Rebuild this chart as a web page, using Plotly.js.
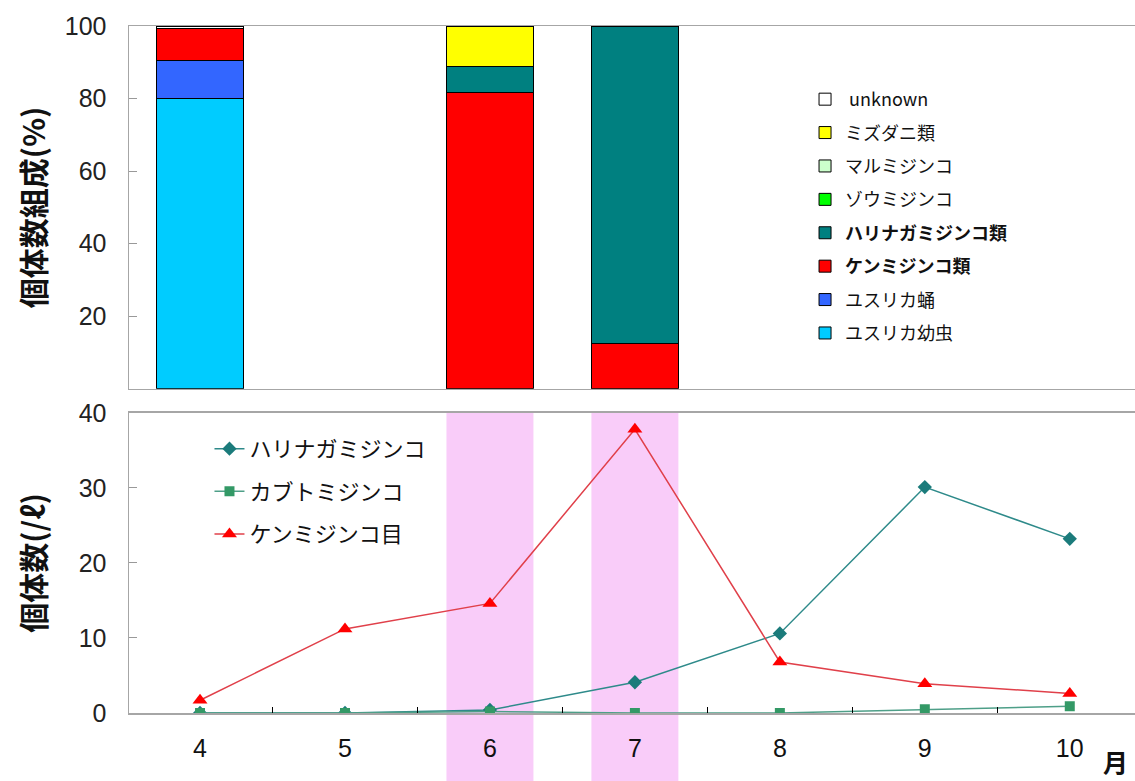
<!DOCTYPE html>
<html>
<head>
<meta charset="utf-8">
<script src="https://cdn.plot.ly/plotly-3.0.1.min.js"></script>
<style>html,body{margin:0;padding:0;background:#fff;}#chart{width:1135px;height:781px;}</style>
</head>
<body>
<div id="chart"></div>
<script>
// ---- data ----
var months = ['4', '5', '6', '7', '8', '9', '10'];

// top panel: composition (%)  (null = no sample / no bar)
var pctYusurikaLarva = [80.0, null, null, null, null, null, null];
var pctYusurikaPupa  = [10.6, null, null, null, null, null, null];
var pctKenmijinko    = [8.6, null, 81.7, 12.5, null, null, null];
var pctHarinaga      = [null, null, 7.2, 87.5, null, null, null];
var pctZoumijinko    = [null, null, null, null, null, null, null];
var pctMarumijinko   = [null, null, null, null, null, null, null];
var pctMizudani      = [null, null, 11.1, null, null, null, null];
var pctUnknown       = [0.8, null, null, null, null, null, null];

// bottom panel: individuals per litre
var cntHarinaga   = [0, 0, 0.4, 4.1, 10.6, 30.1, 23.2];
var cntKabuto     = [0, 0, 0.2, 0, 0, 0.5, 0.9];
var cntKenmijinko = [1.7, 11.2, 14.6, 37.8, 6.8, 3.9, 2.6];

var highlightMonths = ['6', '7'];

var FONT = 'Liberation Sans, Arial, Noto Sans CJK JP, sans-serif';
var JFONT = 'Noto Sans CJK JP, Liberation Sans, sans-serif';

function barTrace(name, vals, color, i) {
  return {
    type: 'bar', x: months, y: vals, name: name,
    xaxis: 'x2', yaxis: 'y2', width: 0.6,
    marker: {color: color, line: {color: '#000', width: 1}},
    legend: 'legend', legendgroup: 'g' + i, legendrank: 100 - i, hoverinfo: 'y+name'
  };
}

var traces = [
  barTrace('ユスリカ幼虫', pctYusurikaLarva, '#00CCFF', 1),
  barTrace('ユスリカ蛹', pctYusurikaPupa, '#3366FF', 2),
  barTrace('<b>ケンミジンコ類</b>', pctKenmijinko, '#FF0000', 3),
  barTrace('<b>ハリナガミジンコ類</b>', pctHarinaga, '#008080', 4),
  barTrace('ゾウミジンコ', pctZoumijinko, '#00FF00', 5),
  barTrace('マルミジンコ', pctMarumijinko, '#CCFFCC', 6),
  barTrace('ミズダニ類', pctMizudani, '#FFFF00', 7),
  barTrace('&#160;unknown', pctUnknown, '#FFFFFF', 8),
  {
    type: 'scatter', mode: 'lines+markers', x: months, y: cntHarinaga,
    name: 'ハリナガミジンコ', xaxis: 'x', yaxis: 'y', legend: 'legend2', legendgroup: 'l1',
    line: {color: '#2E8A8A', width: 1.5},
    marker: {symbol: 'diamond', size: 11, color: '#1B7B7B'}
  },
  {
    type: 'scatter', mode: 'lines+markers', x: months, y: cntKabuto,
    name: 'カブトミジンコ', xaxis: 'x', yaxis: 'y', legend: 'legend2', legendgroup: 'l2',
    line: {color: '#4E9F88', width: 1.5},
    marker: {symbol: 'square', size: 10, color: '#339966'}
  },
  {
    type: 'scatter', mode: 'lines+markers', x: months, y: cntKenmijinko,
    name: 'ケンミジンコ目', xaxis: 'x', yaxis: 'y', legend: 'legend2', legendgroup: 'l3',
    line: {color: '#E0404A', width: 1.5},
    marker: {symbol: 'triangle-up', size: 13, color: '#FF0000'}
  }
];

var shapes = highlightMonths.map(function (m) {
  var idx = months.indexOf(m);
  return {
    type: 'rect', layer: 'below', xref: 'x', yref: 'paper',
    x0: idx - 0.3, x1: idx + 0.3, y0: -0.11, y1: 0.437,
    fillcolor: '#F9CCF9', line: {width: 0}
  };
});

var layout = {
  width: 1135, height: 781,
  margin: {l: 129, r: 0, t: 26, b: 68},
  paper_bgcolor: '#fff', plot_bgcolor: 'rgba(0,0,0,0)',
  barmode: 'stack', showlegend: true,
  font: {family: FONT, color: '#111'},
  xaxis: {
    type: 'category', categoryorder: 'array', categoryarray: months,
    range: [-0.49, 6.45], anchor: 'y',
    showline: true, linecolor: '#A6A6A6', linewidth: 1.5, mirror: true,
    showgrid: false, zeroline: false,
    ticks: 'inside', tickson: 'boundaries', ticklen: 6, tickcolor: '#000', tickwidth: 1,
    tickfont: {size: 25, family: FONT, color: '#111'}, ticklabelstandoff: 12
  },
  yaxis: {
    domain: [0, 0.437], range: [0, 40], tickvals: [0, 10, 20, 30, 40], anchor: 'x',
    showline: true, linecolor: '#A6A6A6', linewidth: 1.5,
    showgrid: false, zeroline: false,
    ticks: 'inside', ticklen: 8, tickcolor: '#999',
    tickfont: {size: 25, family: FONT, color: '#222'}, ticklabelstandoff: 16,
    title: {text: '<b>個体数(/ℓ)</b>', font: {size: 30, family: JFONT, color: '#111'}, standoff: 24}
  },
  xaxis2: {
    type: 'category', categoryorder: 'array', categoryarray: months,
    range: [-0.49, 6.45], anchor: 'y2', matches: 'x',
    showline: true, linecolor: '#A6A6A6', linewidth: 1.5, mirror: true,
    showgrid: false, zeroline: false, showticklabels: false, ticks: ''
  },
  yaxis2: {
    domain: [0.472, 1], range: [0, 100], tickvals: [20, 40, 60, 80, 100], anchor: 'x2',
    showline: true, linecolor: '#A6A6A6', linewidth: 1.5,
    showgrid: false, zeroline: false,
    ticks: 'inside', ticklen: 8, tickcolor: '#999',
    tickfont: {size: 25, family: FONT, color: '#222'}, ticklabelstandoff: 16,
    title: {text: '<b>個体数組成(%)</b>', font: {size: 30, family: JFONT, color: '#111'}, standoff: 10}
  },
  legend: {
    x: 0.672, y: 0.92, xanchor: 'left', yanchor: 'top',
    traceorder: 'grouped', tracegroupgap: 7,
    font: {size: 18, family: JFONT, color: '#111'},
    bgcolor: 'rgba(0,0,0,0)'
  },
  legend2: {
    x: 0.08, y: 0.415, xanchor: 'left', yanchor: 'top',
    traceorder: 'grouped', tracegroupgap: 11,
    font: {size: 22, family: JFONT, color: '#111'},
    bgcolor: 'rgba(0,0,0,0)'
  },
  shapes: shapes,
  annotations: [{
    xref: 'paper', yref: 'paper', x: 0.981, y: -0.07, xanchor: 'center', yanchor: 'middle',
    text: '<b>月</b>', showarrow: false, font: {size: 25, family: JFONT, color: '#111'}
  }]
};

Plotly.newPlot('chart', traces, layout, {displayModeBar: false, staticPlot: true});
</script>
</body>
</html>
